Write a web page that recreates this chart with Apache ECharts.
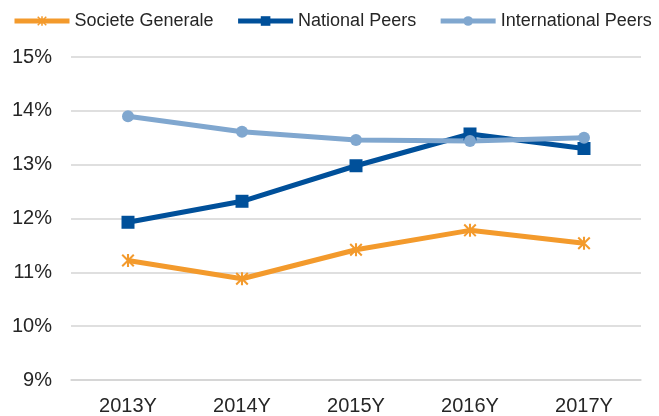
<!DOCTYPE html>
<html><head><meta charset="utf-8">
<script src="https://cdn.jsdelivr.net/npm/echarts@6/dist/echarts.min.js"></script>
<style>html,body{margin:0;padding:0;background:#fff}#c{width:659px;height:416px}</style>
</head><body><div id="c"></div>
<script>
const categories = ['2013Y','2014Y','2015Y','2016Y','2017Y'];
const societeGenerale = [11.22, 10.88, 11.42, 11.78, 11.54];
const nationalPeers = [11.93, 12.32, 12.98, 13.57, 13.30];
const internationalPeers = [13.90, 13.61, 13.46, 13.44, 13.50];
const yTicks = {min: 9, max: 15, step: 1};

const FONT = '"Liberation Sans", Arial, sans-serif';
const starPath = 'path://M4.2 0 L5.8 0 L5.8 10 L4.2 10 Z M0 1.1 L1.1 0 L10 8.9 L8.9 10 Z M8.9 0 L10 1.1 L1.1 10 L0 8.9 Z';

const chart = echarts.init(document.getElementById('c'), null, {renderer: 'canvas'});
function mk(name, data, color, symbol, size) {
  return {
    name, type: 'line', data, symbol, symbolSize: size, showSymbol: true,
    lineStyle: {color, width: 5}, itemStyle: {color, borderWidth: 0},
    emphasis: {disabled: true}, animation: false
  };
}
chart.setOption({
  animation: false,
  textStyle: {fontFamily: FONT},
  legend: {
    left: 12, top: 12, width: 647, padding: 0, itemWidth: 55, itemHeight: 12, itemGap: 22,
    lineStyle: {width: 5},
    textStyle: {fontFamily: FONT, fontSize: 18, color: '#262626'},
    data: ['Societe Generale','National Peers','International Peers']
  },
  grid: {left: 71, right: 18, top: 57, bottom: 36, containLabel: false},
  xAxis: {
    type: 'category', data: categories, boundaryGap: true,
    axisLine: {show: true, lineStyle: {color: '#d4d4d4', width: 1.5}},
    axisTick: {show: false},
    axisLabel: {fontFamily: FONT, fontSize: 20, color: '#262626', margin: 16}
  },
  yAxis: {
    type: 'value', min: yTicks.min, max: yTicks.max, interval: yTicks.step,
    axisLine: {show: false}, axisTick: {show: false},
    splitLine: {lineStyle: {color: '#d4d4d4', width: 1.5}},
    axisLabel: {fontFamily: FONT, fontSize: 20, color: '#262626', margin: 19, formatter: '{value}%'}
  },
  series: [
    mk('Societe Generale', societeGenerale, '#F39A2C', starPath, 13),
    mk('National Peers', nationalPeers, '#00509A', 'rect', 13),
    mk('International Peers', internationalPeers, '#80A7CF', 'circle', 12)
  ]
});
</script></body></html>
